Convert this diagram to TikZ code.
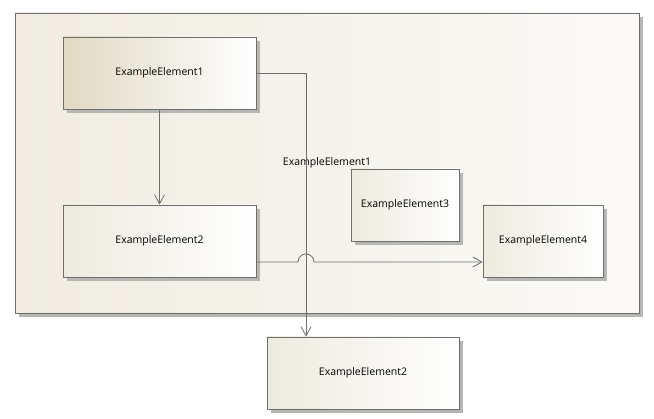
\documentclass[tikz,border=0pt]{standalone}
\usepackage{fontspec}
\setmainfont{Open Sans}
\usetikzlibrary{arrows.meta,shadows,calc}
\definecolor{linegray}{HTML}{6E6E6E}
\definecolor{shadowgray}{HTML}{B6B6B2}
\definecolor{frameleft}{HTML}{F0ECE1}
\definecolor{frameright}{HTML}{FBFAF7}
\definecolor{elemdark}{HTML}{E0D9C3}
\definecolor{elemleft}{HTML}{EEEADF}

\begin{document}
\begin{tikzpicture}[x=1pt,y=-1pt,>={Straight Barb[length=9pt,width=10pt]},
  elem/.style={draw=linegray,line width=0.8pt,inner sep=0pt,minimum height=72pt,
    left color=elemleft,right color=white,
    drop shadow={shadow xshift=4pt,shadow yshift=-4pt,fill=shadowgray,opacity=1},
    font=\fontsize{10.5}{12}\selectfont},
  conn/.style={draw=linegray,line width=0.8pt},
  role/.style={inner sep=0pt,font=\fontsize{10.5}{12}\selectfont}]

\useasboundingbox (0,0) rectangle (654,419);

\node[elem, minimum width=624pt, minimum height=300pt, left color=frameleft, right color=frameright] (pkg) at (327,163) {};

\node[elem, minimum width=193pt, left color=elemdark] (e1) at (159.5,73) {ExampleElement1};
\node[elem, minimum width=193pt] (e2) at (159.5,241) {ExampleElement2};
\node[elem, minimum width=108pt] (e3) at (405,205) {ExampleElement3};
\node[elem, minimum width=120pt] (e4) at (543,241) {ExampleElement4};
\node[elem, minimum width=192pt] (e2b) at (363,373) {ExampleElement2};

\node[role] (lbl) at (327,163) {ExampleElement1};

\coordinate (bend) at (306,73);
\draw[conn,->] (e1) -- (e2);
\draw[conn,->] (e1.east) -- (bend) -- (bend |- e2b.north);
\draw[conn,->] ($(e2.east)+(0,21)$) coordinate (out2) -- ([xshift=-8pt]out2 -| bend)
  arc[start angle=180,end angle=0,radius=8pt] -- (out2 -| e4.west);

\end{tikzpicture}
\end{document}
